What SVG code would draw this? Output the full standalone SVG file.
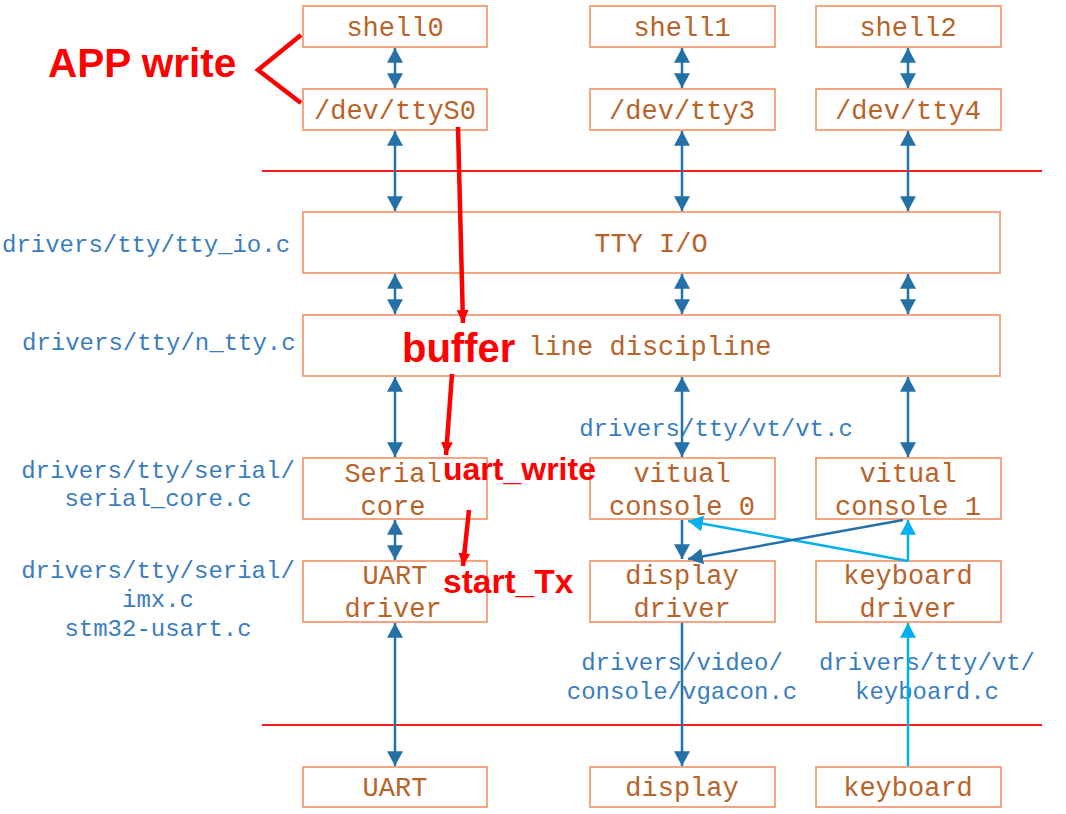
<svg xmlns="http://www.w3.org/2000/svg" width="1066" height="814" viewBox="0 0 1066 814">
<style>
.box rect{fill:#fff;stroke:#F4A582;stroke-width:2}
.box text{font-family:"Liberation Mono","Courier New",monospace;font-size:27px;fill:#B8632A;text-anchor:middle}
.lbl{font-family:"Liberation Mono","Courier New",monospace;font-size:24px;fill:#3A7DBE}
.mid{text-anchor:middle}
.red{font-family:"Liberation Sans",Arial,sans-serif;font-weight:bold;fill:#FF0000}
.c2{stroke:#2471A8;stroke-width:2.5;fill:none;marker-start:url(#ah);marker-end:url(#ah)}
.c1{stroke:#2471A8;stroke-width:2.5;fill:none;marker-end:url(#ah)}
.lb{stroke:#00B0F0;stroke-width:2.5;fill:none;marker-end:url(#al)}
.rl{stroke:#FF0000;stroke-width:4.5;fill:none}
.hr{stroke:#FF1A1A;stroke-width:2;fill:none}
</style>
<defs>
<marker id="ah" markerUnits="userSpaceOnUse" markerWidth="16" markerHeight="16" viewBox="0 0 14 14" refX="13" refY="7" orient="auto-start-reverse"><path d="M0,0 L13,7 L0,14 Z" fill="#2471A8"/></marker>
<marker id="al" markerUnits="userSpaceOnUse" markerWidth="16" markerHeight="16" viewBox="0 0 14 14" refX="13" refY="7" orient="auto-start-reverse"><path d="M0,0 L13,7 L0,14 Z" fill="#00B0F0"/></marker>
<marker id="ar" markerUnits="userSpaceOnUse" markerWidth="14" markerHeight="14" viewBox="0 0 14 12" refX="13" refY="6" orient="auto"><path d="M0,0 L13,6 L0,12 Z" fill="#FF0000"/></marker>
</defs>

<g id="separators">
<line class="hr" x1="262" y1="171" x2="1042" y2="171"/>
<line class="hr" x1="262" y1="725" x2="1042" y2="725"/>
</g>

<g id="labels">
<text class="lbl" x="2" y="252">drivers/tty/tty_io.c</text>
<text class="lbl" x="22" y="350">drivers/tty/n_tty.c</text>
<text class="lbl mid" x="158" y="478">drivers/tty/serial/</text>
<text class="lbl mid" x="158" y="506">serial_core.c</text>
<text class="lbl mid" x="158" y="578">drivers/tty/serial/</text>
<text class="lbl mid" x="158" y="607">imx.c</text>
<text class="lbl mid" x="158" y="636">stm32-usart.c</text>
<text class="lbl mid" x="716" y="436">drivers/tty/vt/vt.c</text>
<text class="lbl mid" x="682" y="670">drivers/video/</text>
<text class="lbl mid" x="682" y="699">console/vgacon.c</text>
<text class="lbl mid" x="927" y="670">drivers/tty/vt/</text>
<text class="lbl mid" x="927" y="699">keyboard.c</text>
</g>

<g id="shell0" class="box"><rect x="303" y="6" width="184" height="41"/><text x="395" y="36">shell0</text></g>
<g id="ttyS0" class="box"><rect x="303" y="89" width="184" height="41"/><text x="395" y="119">/dev/ttyS0</text></g>
<g id="shell1" class="box"><rect x="590" y="6" width="185" height="41"/><text x="682" y="36">shell1</text></g>
<g id="tty3" class="box"><rect x="590" y="89" width="185" height="41"/><text x="682" y="119">/dev/tty3</text></g>
<g id="shell2" class="box"><rect x="816" y="6" width="185" height="41"/><text x="908" y="36">shell2</text></g>
<g id="tty4" class="box"><rect x="816" y="89" width="185" height="41"/><text x="908" y="119">/dev/tty4</text></g>
<g id="ttyio" class="box"><rect x="303" y="212" width="697" height="61"/><text x="651" y="252">TTY I/O</text></g>
<g id="ldisc" class="box"><rect x="303" y="315" width="697" height="61"/><text x="650" y="355">line discipline</text></g>
<g id="serialcore" class="box"><rect x="303" y="458" width="184" height="61"/><text x="393" y="482">Serial</text><text x="393" y="515">core</text></g>
<g id="vc0" class="box"><rect x="590" y="458" width="185" height="61"/><text x="682" y="482">vitual</text><text x="682" y="515">console 0</text></g>
<g id="vc1" class="box"><rect x="816" y="458" width="185" height="61"/><text x="908" y="482">vitual</text><text x="908" y="515">console 1</text></g>
<g id="uartdrv" class="box"><rect x="303" y="561" width="184" height="61"/><text x="395" y="584">UART</text><text x="393" y="617">driver</text></g>
<g id="dispdrv" class="box"><rect x="590" y="561" width="185" height="61"/><text x="682" y="584">display</text><text x="682" y="617">driver</text></g>
<g id="kbddrv" class="box"><rect x="816" y="561" width="185" height="61"/><text x="908" y="584">keyboard</text><text x="908" y="617">driver</text></g>
<g id="uart" class="box"><rect x="303" y="767" width="184" height="40"/><text x="395" y="796">UART</text></g>
<g id="display" class="box"><rect x="590" y="767" width="185" height="40"/><text x="682" y="796">display</text></g>
<g id="keyboard" class="box"><rect x="816" y="767" width="185" height="40"/><text x="908" y="796">keyboard</text></g>

<g id="connectors">
<line class="c2" x1="395" y1="48" x2="395" y2="88"/>
<line class="c2" x1="395" y1="131" x2="395" y2="211"/>
<line class="c2" x1="395" y1="274" x2="395" y2="314"/>
<line class="c2" x1="395" y1="377" x2="395" y2="457"/>
<line class="c2" x1="395" y1="520" x2="395" y2="560"/>
<line class="c2" x1="395" y1="623" x2="395" y2="766"/>
<line class="c2" x1="682" y1="48" x2="682" y2="88"/>
<line class="c2" x1="682" y1="131" x2="682" y2="211"/>
<line class="c2" x1="682" y1="274" x2="682" y2="314"/>
<line class="c2" x1="682" y1="377" x2="682" y2="457"/>
<line class="c1" x1="682" y1="520" x2="682" y2="559"/>
<line class="c1" x1="682" y1="623" x2="682" y2="766"/>
<line class="c2" x1="908" y1="48" x2="908" y2="88"/>
<line class="c2" x1="908" y1="131" x2="908" y2="211"/>
<line class="c2" x1="908" y1="274" x2="908" y2="314"/>
<line class="c2" x1="908" y1="377" x2="908" y2="457"/>
<line class="lb" x1="908" y1="766" x2="908" y2="623"/>
<line class="lb" x1="908" y1="561" x2="908" y2="520"/>
<line class="lb" x1="908" y1="561" x2="688" y2="521"/>
<line class="c1" x1="903" y1="520" x2="688" y2="559"/>
</g>

<g id="annotations">
<polyline class="rl" points="301,35 258,70 301,103" stroke-linejoin="miter"/>
<text class="red" x="48" y="77" font-size="40.5">APP write</text>
<line class="rl" x1="458" y1="127" x2="463" y2="323" marker-end="url(#ar)"/>
<text class="red" x="402" y="362" font-size="40">buffer</text>
<line class="rl" x1="452" y1="374" x2="446" y2="455" marker-end="url(#ar)"/>
<text class="red" x="443" y="480" font-size="32">uart_write</text>
<line class="rl" x1="469" y1="510" x2="463" y2="566" marker-end="url(#ar)"/>
<text class="red" x="443" y="593" font-size="33.5">start_Tx</text>
</g>
</svg>
